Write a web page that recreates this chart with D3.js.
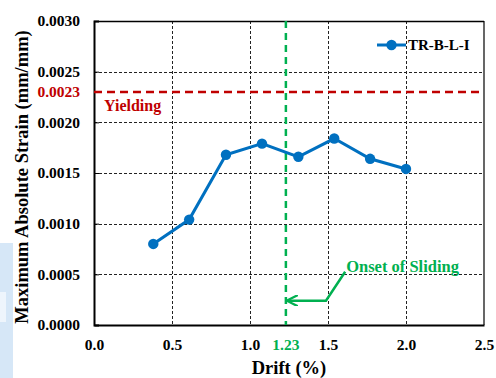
<!DOCTYPE html>
<html>
<head>
<meta charset="utf-8">
<script src="https://cdn.jsdelivr.net/npm/d3@7"></script>
<style>
  html, body { margin: 0; padding: 0; background: #fff; }
  svg { display: block; }
  text { font-family: "Liberation Serif", "Times New Roman", serif; font-weight: bold; }
</style>
</head>
<body>
<svg id="chart" width="496" height="378"></svg>
<script>
// Drift (%) vs. maximum absolute strain for specimen TR-B-L-I
const drift = [0.38, 0.61, 0.846, 1.077, 1.31, 1.54, 1.77, 2.0];
const strain = [0.00080, 0.00104, 0.00168, 0.00179, 0.00166, 0.00184, 0.00164, 0.00154];
const seriesName = "TR-B-L-I";
const xTicks = [0, 0.5, 1.0, 1.5, 2.0, 2.5];
const yTicks = [0, 0.0005, 0.0010, 0.0015, 0.0020, 0.0025, 0.0030];
const yieldStrain = 0.0023;
const slidingDrift = 1.23;

const svg = d3.select("#chart");
const margin = { left: 94, right: 12, top: 21, bottom: 53 };
const W = 496, H = 378;

const x = d3.scaleLinear().domain([0, 2.5]).range([margin.left, W - margin.right]);
const y = d3.scaleLinear().domain([0, 0.003]).range([H - margin.bottom, margin.top]);

const blue = "#0070c0", red = "#c00000", green = "#00b050";
const serif = '"Liberation Serif", "Times New Roman", serif';

// pale block at the left edge
svg.append("rect").attr("x", 0).attr("y", 243).attr("width", 13).attr("height", 135).attr("fill", "#d6e7f7");
svg.append("rect").attr("x", 0).attr("y", 292).attr("width", 6).attr("height", 30).attr("fill", "#eef5fc");

// grid
const grid = svg.append("g").attr("stroke", "#222").attr("stroke-width", 1).attr("stroke-dasharray", "3,2");
grid.selectAll("line.v").data(xTicks.slice(1, -1)).join("line")
  .attr("x1", d => Math.round(x(d)) + 0.5).attr("x2", d => Math.round(x(d)) + 0.5)
  .attr("y1", y(0.003)).attr("y2", y(0));
grid.selectAll("line.h").data(yTicks.slice(1, -1)).join("line")
  .attr("y1", d => Math.round(y(d)) + 0.5).attr("y2", d => Math.round(y(d)) + 0.5)
  .attr("x1", x(0)).attr("x2", x(2.5));

// frame
svg.append("line").attr("x1", x(0)).attr("x2", x(2.5)).attr("y1", y(0.003) + 0.5).attr("y2", y(0.003) + 0.5).attr("stroke", "#000").attr("stroke-width", 1.5);
svg.append("line").attr("x1", x(2.5)).attr("x2", x(2.5)).attr("y1", y(0.003)).attr("y2", y(0)).attr("stroke", "#000").attr("stroke-width", 1.2);

// axes
const xAxis = d3.axisBottom(x).tickValues(xTicks).tickFormat(d3.format(".1f")).tickSize(0).tickPadding(14);
const gx = svg.append("g").attr("transform", `translate(0,${y(0)})`).call(xAxis);
gx.select(".domain").attr("stroke", "#000").attr("stroke-width", 2);
gx.selectAll("text").attr("font-size", 15.5).attr("fill", "#000")
  .style("font-family", serif).style("font-weight", "bold");

const yAxis = d3.axisLeft(y).tickValues(yTicks).tickFormat(d3.format(".4f")).tickSize(-5).tickPadding(14);
const gy = svg.append("g").attr("transform", `translate(${x(0)},0)`).call(yAxis);
gy.select(".domain").attr("stroke", "#000").attr("stroke-width", 2);
gy.selectAll(".tick line").attr("stroke", "#000");
gy.selectAll("text").attr("font-size", 15.5).attr("fill", "#000")
  .style("font-family", serif).style("font-weight", "bold");

// yield strain reference
svg.append("line").attr("x1", x(0)).attr("x2", x(2.5)).attr("y1", y(yieldStrain)).attr("y2", y(yieldStrain))
  .attr("stroke", red).attr("stroke-width", 2.5).attr("stroke-dasharray", "8,5");
svg.append("text").attr("x", x(0) - 14).attr("y", y(yieldStrain)).attr("dy", "0.35em")
  .attr("text-anchor", "end").attr("font-size", 15.5).attr("fill", red).text(d3.format(".4f")(yieldStrain));
svg.append("text").attr("x", x(0) + 10).attr("y", y(yieldStrain) + 19)
  .attr("font-size", 16).attr("fill", red).text("Yielding");

// sliding onset reference
svg.append("line").attr("x1", x(slidingDrift)).attr("x2", x(slidingDrift)).attr("y1", y(0.003)).attr("y2", y(0))
  .attr("stroke", green).attr("stroke-width", 2.5).attr("stroke-dasharray", "7,5");
svg.append("text").attr("x", x(slidingDrift)).attr("y", y(0) + 14).attr("dy", "0.71em")
  .attr("text-anchor", "middle").attr("font-size", 15.5).attr("fill", green).text(slidingDrift.toFixed(2));

// annotation arrow
const defs = svg.append("defs");
defs.append("marker").attr("id", "arrowhead").attr("viewBox", "0 0 10 10").attr("refX", 8).attr("refY", 5)
  .attr("markerWidth", 4.5).attr("markerHeight", 4.5).attr("orient", "auto")
  .append("path").attr("d", "M0,0 L10,5 L0,10").attr("fill", "none").attr("stroke", green).attr("stroke-width", 2);
svg.append("path")
  .attr("d", `M${x(1.61)},${y(0.000525)} L${x(1.487)},${y(0.00024)} L${x(slidingDrift) + 3},${y(0.00024)}`)
  .attr("fill", "none").attr("stroke", green).attr("stroke-width", 2.5).attr("marker-end", "url(#arrowhead)");
svg.append("text").attr("x", x(1.61) + 1).attr("y", y(0.000525))
  .attr("font-size", 16.5).attr("fill", green).text("Onset of Sliding");

// series
const pts = drift.map((d, i) => [d, strain[i]]);
svg.append("path").datum(pts)
  .attr("d", d3.line().x(d => x(d[0])).y(d => y(d[1])))
  .attr("fill", "none").attr("stroke", blue).attr("stroke-width", 3);
svg.selectAll("circle.pt").data(pts).join("circle")
  .attr("cx", d => x(d[0])).attr("cy", d => y(d[1])).attr("r", 5.2).attr("fill", blue);

// legend
const lg = svg.append("g").attr("transform", "translate(377,45)");
lg.append("line").attr("x1", 0).attr("x2", 29).attr("stroke", blue).attr("stroke-width", 3);
lg.append("circle").attr("cx", 14.5).attr("r", 5.2).attr("fill", blue);
lg.append("text").attr("x", 31).attr("dy", "0.35em").attr("font-size", 15).attr("fill", "#000").text(seriesName);

// axis titles
svg.append("text").attr("x", (x(0) + x(2.5)) / 2).attr("y", 374).attr("text-anchor", "middle")
  .attr("font-size", 18.5).attr("fill", "#000").text("Drift (%)");
svg.append("text").attr("transform", "translate(28,177) rotate(-90)")
  .attr("text-anchor", "middle").attr("font-size", 18.5).attr("fill", "#000").text("Maximum Absolute Strain (mm/mm)");
</script>
</body>
</html>
